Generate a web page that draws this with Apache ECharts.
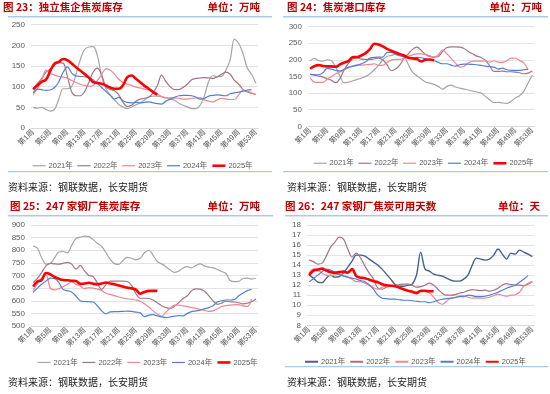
<!DOCTYPE html>
<html><head><meta charset="utf-8">
<script src="https://cdn.jsdelivr.net/npm/echarts@6/dist/echarts.min.js"></script>
<style>html,body{margin:0;padding:0;background:#fff}#c{width:550px;height:394px}</style>
</head><body><div id="c"></div>
<script>
// ---- categories ----
const weeks = Array.from({length:53},(_,i)=>'第'+(i+1)+'周');
const years = ['2021年','2022年','2023年','2024年','2025年'];

// ---- Panel 1: 独立焦企焦炭库存 (万吨) ----
const p1_2021 = [50,48,50,45,41,45,70,95,95,100,130,165,190,196,197,175,125,95,80,68,57,51,47,51,56,61,68,75,77,77,76,73,70,67,60,55,51,47,47,55,78,113,127,124,125,140,165,215,205,180,145,130,108];
const p1_2022 = [95,108,120,135,143,152,158,157,125,87,78,78,88,110,135,145,128,100,93,90,80,62,52,55,65,70,72,75,85,103,128,112,100,93,93,98,106,117,120,121,122,121,120,124,130,135,130,115,106,93,87,84,81];
const p1_2023 = [81,95,115,140,132,128,125,123,121,115,110,106,103,101,103,115,130,143,140,130,118,110,106,103,99,97,94,92,90,83,76,73,73,73,72,70,70,72,73,73,68,65,63,68,72,70,69,69,80,92,90,85,81];
const p1_2024 = [85,94,93,91,92,98,112,135,148,133,126,125,124,122,117,108,98,88,79,70,74,66,62,61,62,61,62,63,61,59,58,65,70,74,78,79,79,78,75,70,72,77,79,80,79,78,83,85,87,89,92,93];
const p1_2025 = [94,103,112,117,138,156,160,167,164,156,147,139,131,122,111,109,107,103,98,95,95,104,123,127,119,111,102,95,87,81];

// ---- Panel 2: 焦炭港口库存 (万吨) ----
const p2_2021 = [196,204,197,196,200,197,178,150,131,133,137,141,145,150,158,170,183,200,210,213,217,216,210,185,162,152,142,133,130,126,120,112,120,124,118,115,112,109,106,103,100,90,80,71,72,70,69,75,85,92,105,130,154];
const p2_2022 = [156,154,151,148,143,138,131,145,170,190,203,206,202,201,201,203,205,200,185,167,172,185,205,218,232,238,228,216,210,208,210,225,237,239,239,238,234,225,218,211,207,198,182,165,165,166,164,164,163,161,158,160,166];
const p2_2023 = [146,133,132,132,142,150,158,163,170,176,181,185,184,185,186,188,183,183,192,199,201,201,205,211,215,218,218,216,212,208,215,230,218,204,190,178,180,190,196,196,196,197,193,197,193,192,197,205,205,198,190,171];
const p2_2024 = [156,155,155,161,174,172,168,166,172,178,181,183,188,194,205,207,208,208,222,222,216,212,208,206,206,207,206,203,200,197,192,188,188,184,181,185,187,187,186,185,183,181,179,178,172,175,170,168,168,168,170,171];
const p2_2025 = [173,181,184,181,180,180,179,186,192,196,208,208,213,220,232,248,246,240,233,227,222,217,213,206,204,202,195,200,201,198];

// ---- Panel 3: 247家钢厂焦炭库存 (万吨) ----
const p3_2021 = [816,808,770,745,748,770,793,795,790,820,846,852,856,854,842,828,815,790,764,747,744,760,772,768,762,768,790,800,780,755,746,735,722,712,718,730,735,730,740,746,738,733,730,724,716,708,680,676,677,688,690,686,689];
const p3_2022 = [672,689,712,738,748,746,745,748,752,745,725,740,718,700,696,670,645,664,678,678,678,678,676,660,628,610,610,609,603,592,580,573,570,578,593,609,620,640,647,646,638,620,600,586,590,598,596,595,592,588,590,596,607];
const p3_2023 = [640,668,690,703,650,643,648,656,665,675,665,658,648,652,650,646,640,630,625,620,615,611,608,606,603,598,588,575,560,548,538,555,570,583,583,580,577,573,570,566,562,558,560,568,577,581,583,584,585,580,578,607];
const p3_2024 = [633,650,665,678,690,688,672,645,640,635,618,600,597,596,595,580,560,548,556,557,557,558,559,558,555,552,537,543,545,540,536,533,536,539,541,540,550,557,560,563,568,573,580,595,600,603,603,605,620,630,640,645];
const p3_2025 = [656,676,682,710,705,694,687,682,681,679,678,667,668,671,667,665,668,672,668,665,660,656,652,649,644,628,635,639,639,639];

// ---- Panel 4: 247家钢厂焦炭可用天数 (天) ----
const p4_2021 = [13.0,12.7,12.3,12.25,12.7,13.0,12.8,12.85,13.2,13.8,14.4,15.0,15.0,14.9,14.6,14.3,14.0,13.6,13.1,12.6,12.1,11.9,11.9,12.0,12.1,13.0,15.3,13.6,13.4,13.1,13.0,12.9,12.7,12.5,12.4,12.4,12.6,13.0,14.0,14.7,14.6,14.5,14.6,15.0,15.6,15.1,14.6,15.2,15.1,15.5,15.3,15.1,14.85];
const p4_2022 = [14.5,14.35,14.1,14.2,14.9,15.8,16.3,16.8,16.6,15.6,14.8,15.2,14.7,13.9,13.2,12.6,11.7,11.6,11.8,11.9,12.0,12.05,12.1,12.1,12.0,11.8,11.85,12.0,12.2,12.0,11.6,11.2,11.0,11.0,11.05,11.2,11.3,11.45,11.55,11.5,11.45,11.5,11.4,11.5,11.7,12.0,12.15,12.05,12.0,12.0,11.95,12.1,12.35];
const p4_2023 = [13.2,13.6,13.5,13.2,13.0,12.95,13.05,13.1,12.95,12.8,12.6,12.35,12.35,12.2,12.0,11.75,11.6,11.8,11.9,11.95,11.9,11.8,11.6,11.5,11.4,11.35,11.35,11.35,11.25,10.8,10.3,10.1,10.4,10.7,10.8,10.9,10.95,10.8,10.7,10.7,10.7,10.7,10.8,10.95,11.1,11.0,10.9,11.0,11.05,11.3,11.9,12.2,12.35];
const p4_2024 = [12.35,12.65,13.0,13.35,13.6,13.5,13.25,13.05,12.9,12.8,12.7,12.6,12.45,12.35,12.05,11.6,11.0,10.7,10.65,10.6,10.6,10.55,10.5,10.5,10.45,10.4,10.35,10.35,10.25,10.35,10.5,10.6,10.65,10.7,10.75,10.85,10.85,11.0,10.95,10.85,10.85,10.9,11.0,11.15,11.3,11.5,11.7,11.85,12.0,12.3,12.6,12.95];
const p4_2025 = [13.0,13.45,13.55,13.65,13.45,13.3,13.25,13.3,13.35,13.25,13.6,12.9,12.75,12.7,12.55,12.4,12.3,12.1,12.0,11.95,11.9,11.75,11.6,11.45,11.35,11.2,11.45,11.45,11.4,11.4];

const panels = [
  {title:'图 23：独立焦企焦炭库存', unit:'单位：万吨', data:[p1_2021,p1_2022,p1_2023,p1_2024,p1_2025], min:0, max:250, interval:50,
   grid:{left:31,top:24.7,width:227,height:103.3}, tx:3, ux:260, ty:8, lineY:16.7, lx:[8,272], legend:{left:27,cy:161}, sepY:171.7, srcX:8, srcY:188},
  {title:'图 24：焦炭港口库存', unit:'单位：万吨', data:[p2_2021,p2_2022,p2_2023,p2_2024,p2_2025], min:0, max:300, interval:50,
   grid:{left:308,top:26.5,width:226.5,height:99.8}, tx:287, ux:542, ty:8, lineY:16.7, lx:[283,548], legend:{left:308,cy:158.5}, sepY:171.7, srcX:287, srcY:188},
  {title:'图 25：247 家钢厂焦炭库存', unit:'单位：万吨', data:[p3_2021,p3_2022,p3_2023,p3_2024,p3_2025], min:500, max:900, interval:50,
   grid:{left:31,top:225,width:227,height:101}, tx:10, ux:260, ty:207, lineY:215.7, lx:[8,273], legend:{left:32,cy:357.7}, sepY:null, srcX:8, srcY:383},
  {title:'图 26：247 家钢厂焦炭可用天数', unit:'单位：天', data:[p4_2021,p4_2022,p4_2023,p4_2024,p4_2025], min:8, max:18, interval:1,
   grid:{left:307,top:225,width:227.5,height:100.3}, tx:285, ux:540, ty:207, lineY:215.7, lx:[285,548], legend:{left:299,cy:357}, sepY:366.7, srcX:287, srcY:383}
];
const colorsA = ['#A5A5A5','#A27489','#F2868F','#4F7FD6','#FF0000'];
const colorsB = ['#44628F','#A27489','#F2868F','#4F7FD6','#FF0000'];
const FONT = '"Liberation Sans", Arial, "Noto Sans CJK SC", sans-serif';

const grids=[], xAxes=[], yAxes=[], series=[], legends=[], graphics=[];
panels.forEach((p,i)=>{
  grids.push(p.grid);
  xAxes.push({type:'category', gridIndex:i, data:weeks, boundaryGap:true,
    axisLine:{lineStyle:{color:'#D9D9D9'}}, axisTick:{show:false},
    axisLabel:{interval:3, rotate:45, fontSize:7.5, color:'#595959', margin:3, fontFamily:FONT}});
  yAxes.push({type:'value', gridIndex:i, min:p.min, max:p.max, interval:p.interval,
    axisLine:{show:false}, axisTick:{show:false},
    axisLabel:{fontSize:8, color:'#595959', margin:6, fontFamily:FONT},
    splitLine:{lineStyle:{color:'#E3E3E3', width:1}}});
  const cols = i===3 ? colorsB : colorsA;
  const names = [];
  p.data.forEach((d,k)=>{
    const nm = 'p'+i+'#'+years[k];
    names.push(nm);
    series.push({name:nm, type:'line', xAxisIndex:i, yAxisIndex:i, data:d, symbol:'none', smooth:0.35,
      lineStyle:{color:cols[k], width: k===4 ? 2.6 : (i===3 && k===0 ? 1.4 : 1.2)}, itemStyle:{color:cols[k]},
      z: k===4 ? 10 : 2+k, animation:false});
  });
  legends.push({data:names, left:p.legend.left, top:p.legend.cy-4, width:320, itemWidth:13, itemHeight:8, itemGap:4,
    selectedMode:false, formatter:n=>n.split('#')[1], itemStyle:{opacity:0},
    lineStyle:{width: i===3 ? 2 : 'inherit'},
    textStyle:{fontSize:7.5, color:'#595959', fontFamily:FONT, padding:[0,0,0,-2]}});
  graphics.push({type:'text', left:p.tx, top:p.ty-6, style:{text:p.title, fill:'#C00000', font:'bold 10.5px "Noto Sans CJK SC", sans-serif'}});
  graphics.push({type:'text', right:550-p.ux, top:p.ty-6, style:{text:p.unit, fill:'#C00000', font:'bold 10.5px "Noto Sans CJK SC", sans-serif'}});
  graphics.push({type:'line', shape:{x1:p.lx[0], y1:p.lineY, x2:p.lx[1], y2:p.lineY}, style:{stroke:'#A9CBEA', lineWidth:1.6}});
  if(p.sepY) graphics.push({type:'line', shape:{x1:p.lx[0], y1:p.sepY, x2:p.lx[1], y2:p.sepY}, style:{stroke:'#A9CBEA', lineWidth:1.2}});
  graphics.push({type:'text', left:p.srcX, top:p.srcY-6, style:{text:'资料来源：钢联数据，长安期货', fill:'#222', font:'10px "Noto Sans CJK SC", sans-serif'}});
});

const chart = echarts.init(document.getElementById('c'), null, {renderer:'canvas'});
chart.setOption({animation:false, backgroundColor:'#fff', grid:grids, xAxis:xAxes, yAxis:yAxes, series:series, legend:legends, graphic:graphics});
</script></body></html>
